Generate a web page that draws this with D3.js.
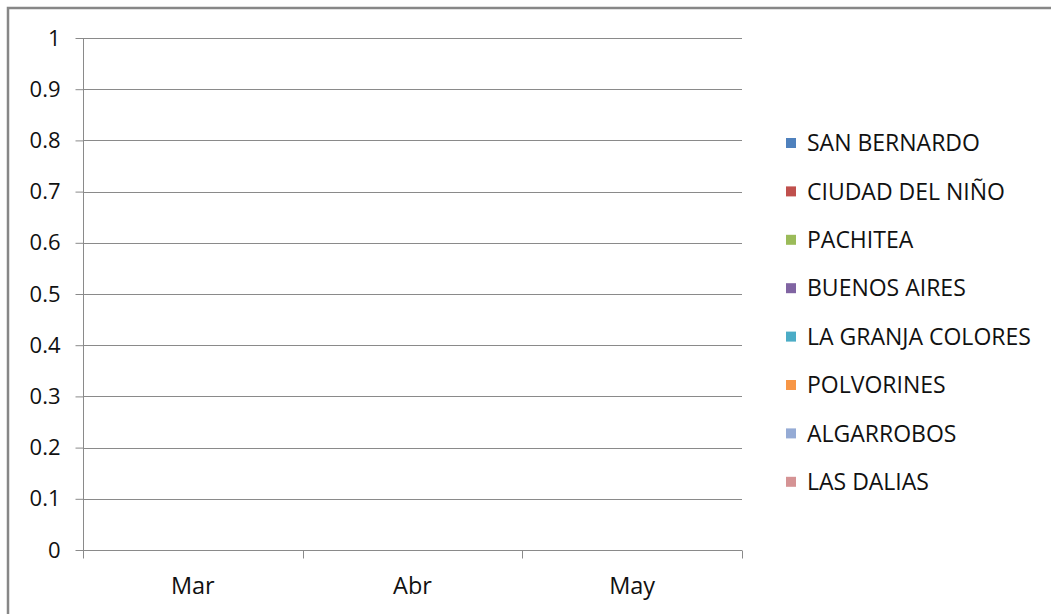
<!DOCTYPE html>
<html>
<head>
<meta charset="utf-8">
<script src="https://cdn.jsdelivr.net/npm/d3@7"></script>
<style>
  html, body { margin: 0; padding: 0; background: #fff; }
  svg { display: block; font-family: "Open Sans", "Noto Sans", sans-serif; }
</style>
</head>
<body>
<div id="chart"></div>
<script>
const months = ['Mar', 'Abr', 'May'];
const seriesNames = ['SAN BERNARDO', 'CIUDAD DEL NIÑO', 'PACHITEA', 'BUENOS AIRES',
  'LA GRANJA COLORES', 'POLVORINES', 'ALGARROBOS', 'LAS DALIAS'];
const seriesColors = ['#4F81BD', '#C0504D', '#9BBB59', '#8064A2',
  '#4BACC6', '#F79646', '#95ABD5', '#D59394'];
// no values recorded for any series in these months
const seriesValues = [
  [0, 0, 0], [0, 0, 0], [0, 0, 0], [0, 0, 0],
  [0, 0, 0], [0, 0, 0], [0, 0, 0], [0, 0, 0]
];
const yTicks = [0, 0.1, 0.2, 0.3, 0.4, 0.5, 0.6, 0.7, 0.8, 0.9, 1];

const W = 1051, H = 614;
const margin = { top: 38, right: 309, bottom: 64, left: 83 };
const width = W - margin.left - margin.right;
const height = H - margin.top - margin.bottom;
const gridColor = '#8a8a8a';

const svg = d3.select('#chart').append('svg')
  .attr('width', W).attr('height', H);

// outer chart border (runs off the right / bottom edge like the original)
svg.append('rect')
  .attr('x', 8).attr('y', 8)
  .attr('width', W + 20).attr('height', H + 20)
  .attr('fill', 'none')
  .attr('stroke', '#878787')
  .attr('stroke-width', 2.5);

const g = svg.append('g').attr('transform', `translate(${margin.left},${margin.top})`);

const x = d3.scaleBand().domain(months).range([0, width]);
const y = d3.scaleLinear().domain([0, 1]).range([height, 0]);

// gridlines
g.append('g')
  .selectAll('line')
  .data(yTicks.filter(d => d > 0))
  .enter().append('line')
  .attr('x1', 0).attr('x2', width)
  .attr('y1', d => Math.round(y(d)) + 0.5)
  .attr('y2', d => Math.round(y(d)) + 0.5)
  .attr('stroke', gridColor);

// Y axis
const yAxis = g.append('g')
  .attr('transform', 'translate(0.5,0)')
  .call(d3.axisLeft(y).tickValues(yTicks).tickFormat(d3.format('')).tickSize(8).tickPadding(15));
yAxis.attr('font-family', null);
yAxis.select('.domain').attr('stroke', gridColor).attr('d', `M0,0V${height}`);
yAxis.selectAll('.tick line').attr('stroke', gridColor);
yAxis.selectAll('.tick text').attr('font-size', 22).attr('fill', '#111');

// X axis
const xAxis = g.append('g').attr('transform', `translate(0,${height + 0.5})`);
xAxis.append('line')
  .attr('x1', 0).attr('x2', width)
  .attr('stroke', gridColor);
xAxis.selectAll('.xtick')
  .data(d3.range(months.length + 1))
  .enter().append('line')
  .attr('x1', i => Math.round(i * x.step()) + 0.5)
  .attr('x2', i => Math.round(i * x.step()) + 0.5)
  .attr('y1', 0).attr('y2', 8)
  .attr('stroke', gridColor);
xAxis.selectAll('.xlabel')
  .data(months)
  .enter().append('text')
  .attr('x', d => x(d) + x.bandwidth() / 2)
  .attr('y', 43)
  .attr('text-anchor', 'middle')
  .attr('font-size', 23.5)
  .attr('fill', '#111')
  .text(d => d);

// bars (all zero height)
const x1 = d3.scaleBand().domain(seriesNames).range([0, x.bandwidth()]).paddingOuter(1.1);
seriesNames.forEach((name, si) => {
  g.selectAll('.bar-' + si)
    .data(seriesValues[si])
    .enter().append('rect')
    .attr('x', (d, i) => x(months[i]) + x1(name))
    .attr('width', x1.bandwidth())
    .attr('y', d => y(d))
    .attr('height', d => height - y(d))
    .attr('fill', seriesColors[si]);
});

// legend
const legend = svg.append('g').attr('transform', 'translate(786,143)');
const row = legend.selectAll('g')
  .data(seriesNames)
  .enter().append('g')
  .attr('transform', (d, i) => `translate(0,${i * 48.4})`);
row.append('rect')
  .attr('x', 0).attr('y', -5)
  .attr('width', 10).attr('height', 10)
  .attr('fill', (d, i) => seriesColors[i]);
row.append('text')
  .attr('x', 21).attr('y', 0)
  .attr('dy', '0.36em')
  .attr('font-size', 23)
  .attr('fill', '#111')
  .text(d => d);
</script>
</body>
</html>
